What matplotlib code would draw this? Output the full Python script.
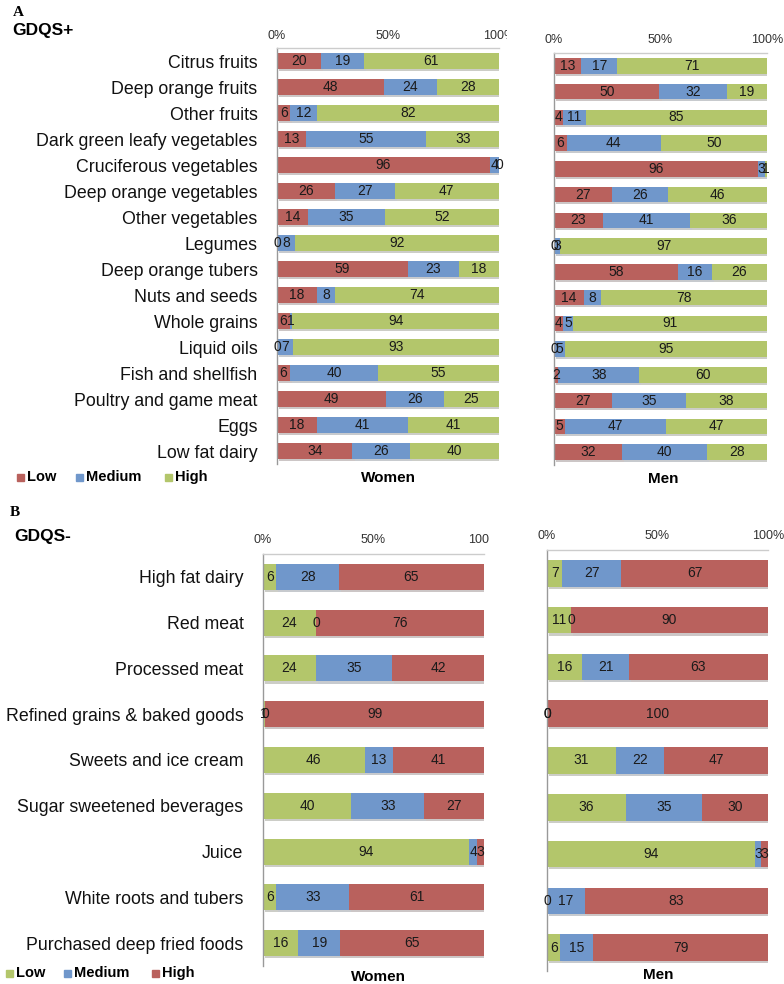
import matplotlib.pyplot as plt
import matplotlib.patheffects as pe
from matplotlib.patches import Rectangle

plt.rcParams['font.family'] = ['Liberation Sans', 'DejaVu Sans']

RED = '#b9615d'
BLUE = '#7097cb'
GREEN = '#b3c66b'

# Panel A : GDQS+ (Low, Medium, High)
cats_a = ["Citrus fruits", "Deep orange fruits", "Other fruits", "Dark green leafy vegetables",
          "Cruciferous vegetables", "Deep orange vegetables", "Other vegetables", "Legumes",
          "Deep orange tubers", "Nuts and seeds", "Whole grains", "Liquid oils",
          "Fish and shellfish", "Poultry and game meat", "Eggs", "Low fat dairy"]
women_a_low = [20, 48, 6, 13, 96, 26, 14, 0, 59, 18, 6, 0, 6, 49, 18, 34]
women_a_med = [19, 24, 12, 55, 4, 27, 35, 8, 23, 8, 1, 7, 40, 26, 41, 26]
women_a_high = [61, 28, 82, 33, 0, 47, 52, 92, 18, 74, 94, 93, 55, 25, 41, 40]
men_a_low = [13, 50, 4, 6, 96, 27, 23, 0, 58, 14, 4, 0, 2, 27, 5, 32]
men_a_med = [17, 32, 11, 44, 3, 26, 41, 3, 16, 8, 5, 5, 38, 35, 47, 40]
men_a_high = [71, 19, 85, 50, 1, 46, 36, 97, 26, 78, 91, 95, 60, 38, 47, 28]

# Panel B : GDQS- (Low, Medium, High)
cats_b = ["High fat dairy", "Red meat", "Processed meat", "Refined grains & baked goods",
          "Sweets and ice cream", "Sugar sweetened beverages", "Juice",
          "White roots and tubers", "Purchased deep fried foods"]
women_b_low = [6, 24, 24, 1, 46, 40, 94, 6, 16]
women_b_med = [28, 0, 35, 0, 13, 33, 4, 33, 19]
women_b_high = [65, 76, 42, 99, 41, 27, 3, 61, 65]
men_b_low = [7, 11, 16, 0, 31, 36, 94, 0, 6]
men_b_med = [27, 0, 21, 0, 22, 35, 3, 17, 15]
men_b_high = [67, 90, 63, 100, 47, 30, 3, 83, 79]

W, H = 784, 984
fig = plt.figure(figsize=(W / 100, H / 100), dpi=100)


def px_axes(left, top, right, bottom):
    return fig.add_axes([left / W, 1 - bottom / H, (right - left) / W, (bottom - top) / H])


def panel(ax, series, colors, cats, bar_h, label_size, tick_size, tick_pad, show_cats, cat_size):
    n = len(cats)
    ys = list(range(n))
    totals = [sum(v) for v in zip(*series)]
    lefts = [0.0] * n
    shadow = [pe.SimplePatchShadow(offset=(1.5, -1.5), alpha=0.25), pe.Normal()]
    for vals, col in zip(series, colors):
        widths = [v / t * 100 for v, t in zip(vals, totals)]
        bars = ax.barh(ys, widths, left=lefts, height=bar_h, color=col, edgecolor='none')
        for b in bars:
            b.set_path_effects(shadow)
        for y, l, w, v in zip(ys, lefts, widths, vals):
            ax.text(l + w / 2, y, str(v), ha='center', va='center', fontsize=label_size, color='#1a1a1a')
        lefts = [l + w for l, w in zip(lefts, widths)]
    ax.set_xlim(0, 100)
    ax.set_ylim(n - 0.5, -0.5)
    ax.xaxis.tick_top()
    ax.set_xticks([0, 50, 100])
    ax.set_xticklabels(['0%', '50%', '100%'], fontsize=tick_size, color='#333333')
    ax.tick_params(axis='x', length=0, pad=tick_pad)
    ax.set_yticks(ys)
    if show_cats:
        ax.set_yticklabels(cats, fontsize=cat_size, color='#111111')
    else:
        ax.set_yticklabels([])
    ax.tick_params(axis='y', length=0, pad=14)
    for s in ['right', 'bottom']:
        ax.spines[s].set_visible(False)
    ax.spines['left'].set_color('#999999')
    ax.spines['top'].set_color('#cccccc')
    ax.spines['left'].set_linewidth(1.0)
    ax.spines['top'].set_linewidth(1.0)


ax1 = px_axes(277, 48, 499, 464)
panel(ax1, [women_a_low, women_a_med, women_a_high], [RED, BLUE, GREEN], cats_a,
      0.6, 10, 9, 4, True, 12.8)
ax2 = px_axes(554, 53, 767, 465)
panel(ax2, [men_a_low, men_a_med, men_a_high], [RED, BLUE, GREEN], cats_a,
      0.6, 10, 9, 5, False, 12.8)
ax3 = px_axes(263, 554, 484, 966)
panel(ax3, [women_b_low, women_b_med, women_b_high], [GREEN, BLUE, RED], cats_b,
      0.57, 10, 9, 6, True, 12.8)
ax4 = px_axes(547, 550, 768, 971)
panel(ax4, [men_b_low, men_b_med, men_b_high], [GREEN, BLUE, RED], cats_b,
      0.57, 10, 9, 6, False, 12.8)

# the right tick label of the women panels is cut off in the original
for ax, cut in [(ax1, 507), (ax3, 489)]:
    clip = Rectangle((0, 0), cut / W, 1, transform=fig.transFigure)
    ax.get_xticklabels()[-1].set_clip_path(clip)

# panel headings
fig.text(13 / W, 1 - 13 / H, 'A', fontsize=11, fontweight='bold', family='Liberation Serif', va='center')
fig.text(12 / W, 1 - 31 / H, 'GDQS+', fontsize=12.5, fontweight='bold', va='center')
fig.text(10 / W, 1 - 512 / H, 'B', fontsize=11, fontweight='bold', family='Liberation Serif', va='center')
fig.text(14 / W, 1 - 537 / H, 'GDQS-', fontsize=12.5, fontweight='bold', va='center')

# group labels
fig.text(388 / W, 1 - 478 / H, 'Women', fontsize=11, fontweight='bold', ha='center', va='center')
fig.text(663 / W, 1 - 479 / H, 'Men', fontsize=11, fontweight='bold', ha='center', va='center')
fig.text(378 / W, 1 - 977 / H, 'Women', fontsize=11, fontweight='bold', ha='center', va='center')
fig.text(658 / W, 1 - 975 / H, 'Men', fontsize=11, fontweight='bold', ha='center', va='center')

# legends
legend_a = [('Low', RED, 20), ('Medium', BLUE, 79), ('High', GREEN, 168)]
legend_b = [('Low', GREEN, 9), ('Medium', BLUE, 67), ('High', RED, 155)]
for items, yc in [(legend_a, 477), (legend_b, 973)]:
    for name, col, xs in items:
        fig.patches.append(Rectangle(((xs - 3.5) / W, 1 - (yc + 3.5) / H), 7 / W, 7 / H,
                                     transform=fig.transFigure, color=col))
        fig.text((xs + 7) / W, 1 - yc / H, name, fontsize=10.5, fontweight='bold', va='center')

fig.savefig('out.png', dpi=100)
